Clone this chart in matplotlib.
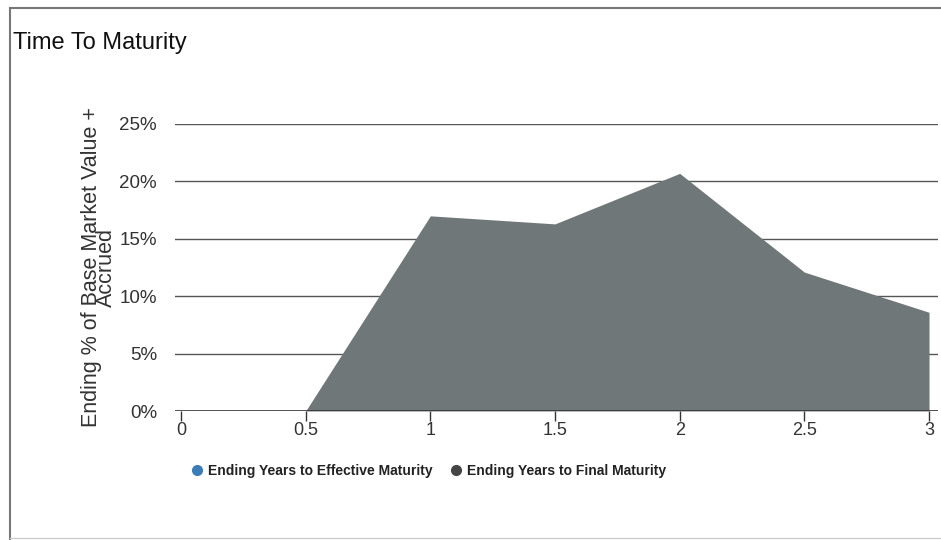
import matplotlib
matplotlib.use("Agg")
import matplotlib.pyplot as plt
from matplotlib.lines import Line2D

plt.rcParams['font.family'] = ['Liberation Sans', 'DejaVu Sans']

# years to maturity buckets and % of base market value + accrued
years = [0, 0.5, 1, 1.5, 2, 2.5, 3]
final_maturity = [0, 0, 17.0, 16.3, 20.7, 12.1, 8.6]
x_ticks = [0, 0.5, 1, 1.5, 2, 2.5, 3]
x_labels = ['0', '0.5', '1', '1.5', '2', '2.5', '3']
y_ticks = [0, 5, 10, 15, 20, 25]
y_labels = ['0%', '5%', '10%', '15%', '20%', '25%']
series_names = ['Ending Years to Effective Maturity', 'Ending Years to Final Maturity']
series_colors = ['#3b7db4', '#454545']

W, H = 941, 540
fig = plt.figure(figsize=(W / 100, H / 100), dpi=100)
fig.patch.set_facecolor('white')

# plot area in pixel terms
ax = fig.add_axes([175 / W, 1 - 411 / H, (938 - 175) / W, (411 - 124) / H])

ax.fill_between(years, final_maturity, 0, color='#707779', linewidth=0, zorder=3)

ax.set_xlim(-0.024, 3.036)
ax.set_ylim(0, 25)

ax.set_yticks(y_ticks)
ax.set_yticklabels(y_labels)
ax.set_xticks(x_ticks)
ax.set_xticklabels(x_labels)

# horizontal gridlines
for v in y_ticks[1:]:
    ax.axhline(v, color='#555555', linewidth=1.0, zorder=2)
ax.axhline(0, color='#333333', linewidth=1.2, zorder=4)

for s in ax.spines.values():
    s.set_visible(False)

ax.tick_params(axis='y', length=0, pad=13, labelsize=13.5, labelcolor='#333333')
ax.tick_params(axis='x', length=7, width=1, color='#333333', direction='out',
               pad=1, labelsize=13, labelcolor='#333333')

ax.set_ylabel('Ending % of Base Market Value +\nAccrued', fontsize=15.5,
              color='#333333', linespacing=0.64, labelpad=1.5)

# title
fig.text(13 / W, 1 - 43 / H, 'Time To Maturity', fontsize=17, color='#111111',
         va='center', ha='left')

# legend
handles = [Line2D([], [], marker='o', linestyle='none', markersize=7,
                  markerfacecolor=c, markeredgecolor=c) for c in series_colors]
fig.legend(handles, series_names, loc='center', bbox_to_anchor=(428 / W, 1 - 471 / H),
           ncol=2, frameon=False, prop={'weight': 'bold', 'size': 10},
           handletextpad=0.3, columnspacing=1.2, handlelength=1.0,
           labelcolor='#222222')

# scanned page frame
fig.add_artist(Line2D([10 / W, 1], [1 - 8 / H, 1 - 8 / H], transform=fig.transFigure,
                      color='#777777', linewidth=1.5))
fig.add_artist(Line2D([10 / W, 10 / W], [0, 1 - 8 / H], transform=fig.transFigure,
                      color='#777777', linewidth=1.5))
fig.add_artist(Line2D([10 / W, 1], [2 / H, 2 / H], transform=fig.transFigure,
                      color='#cccccc', linewidth=1.0))

fig.savefig('out.png', dpi=100)
